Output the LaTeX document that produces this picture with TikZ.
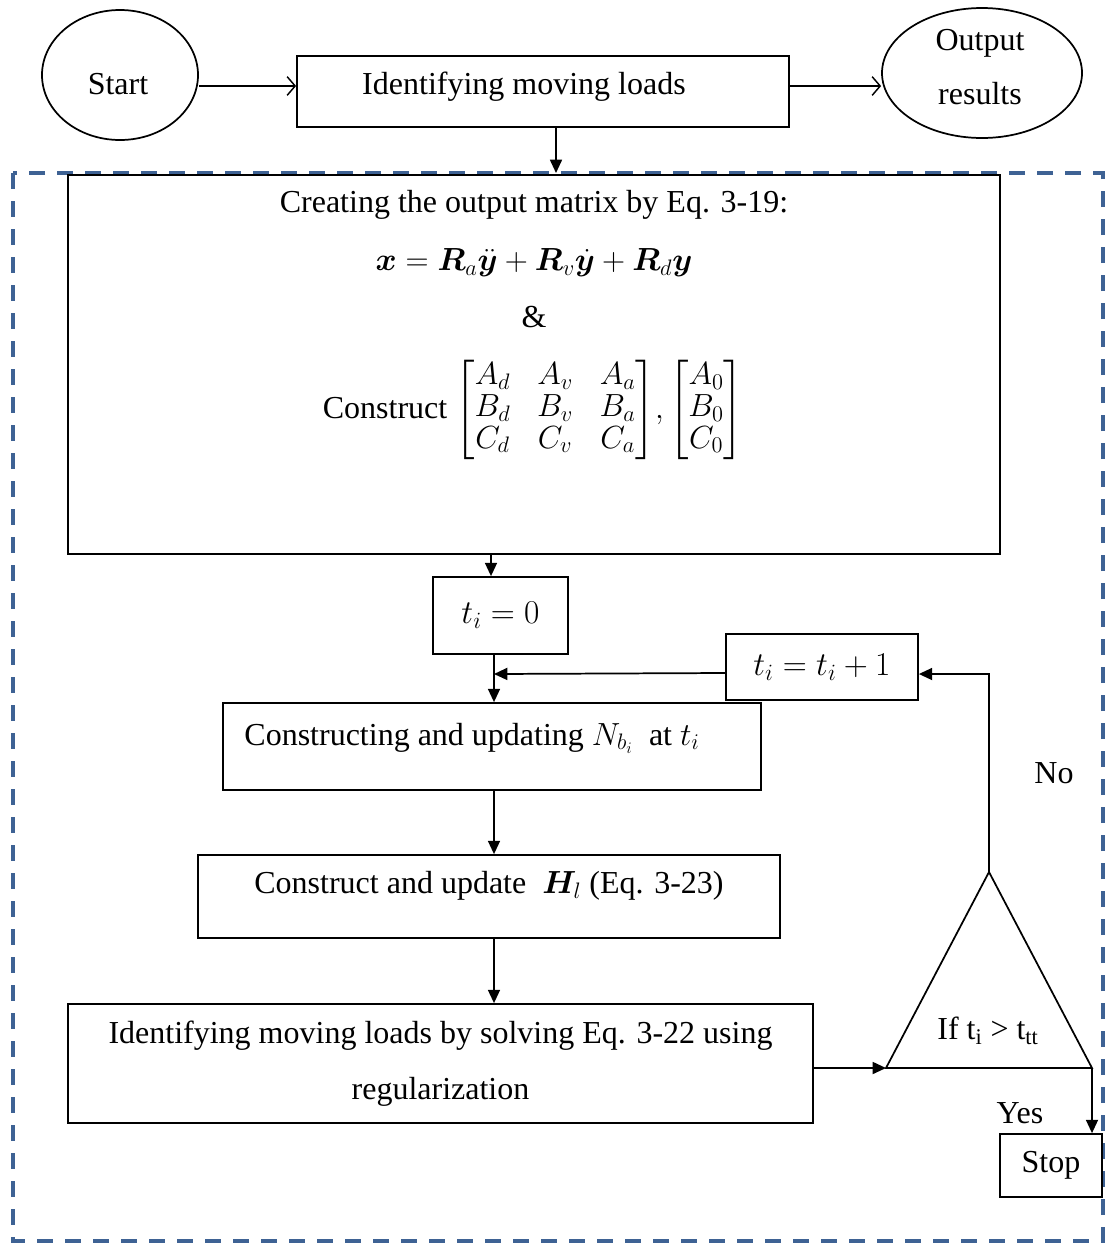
\RequirePackage{fix-cm}
\documentclass[tikz,border=0pt]{standalone}
\usepackage{amsmath,bm}
\usepackage{fontspec}
\setmainfont{Liberation Serif}
\usetikzlibrary{arrows.meta,shapes.geometric}
\definecolor{dashblue}{RGB}{62,98,148}
\begin{document}
\begin{tikzpicture}[x=0.75pt,y=-0.75pt,
  every node/.style={font=\fontsize{24}{28}\selectfont},
  box/.style={draw,line width=1.3pt,inner sep=0pt,align=center},
  oval/.style={draw,ellipse,line width=1.3pt,inner sep=0pt,align=center},
  arr/.style={line width=1.3pt,-{Triangle[length=10pt,width=9pt]}},
  oarr/.style={line width=1.1pt,-{Straight Barb[length=6pt,width=14pt]}},
  conn/.style={line width=1.3pt},
  frame/.style={draw=dashblue,line width=2.4pt,dash pattern=on 12pt off 9pt}]
\useasboundingbox (0,0) rectangle (1105,1243);
% dashed frame
\draw[frame] (13,173) rectangle (1103,1241);
% top row
\node[oval,minimum width=117pt,minimum height=97.5pt] (start) at (120,75) {};
\node (startt) at (118,84) {Start};
\node[box,minimum width=369pt,minimum height=53.25pt] (ident) at (543,91.5) {};
\node (identt) at (524,87) {Identifying moving loads};
\node[oval,minimum width=150pt,minimum height=97.5pt] (out) at (982,73) {};
\node[font=\fontsize{24}{41}\selectfont,align=center] (outt) at (980,67) {Output\\results};
\draw[oarr] (start.east |- 0,86) -- (ident.west |- 0,86);
\draw[oarr] (ident.east |- 0,86) -- (out.west |- 0,86);
% big box
\node[box,minimum width=699pt,minimum height=284.25pt] (big) at (534,364.5) {};
\node (l1) at (534,205) {Creating the output matrix by Eq. 3-19:};
\node (l2) at (534,263) {$\bm{x}=\bm{R}_{a}\ddot{\bm{y}}+\bm{R}_{v}\dot{\bm{y}}+\bm{R}_{d}\bm{y}$};
\node (l3) at (534,317) {\&};
\node (l4) at (533,410) {\renewcommand{\arraystretch}{0.85}Construct {\arraycolsep=10pt$\begin{bmatrix}A_d & A_v & A_a\\ B_d & B_v & B_a\\ C_d & C_v & C_a\end{bmatrix}$}$,\begin{bmatrix}A_0\\ B_0\\ C_0\end{bmatrix}$};
\draw[arr] ([xshift=9.75pt]ident.south) -- ([xshift=9.75pt]ident.south |- 0,173);
% loop part
\node[box,minimum width=101.25pt,minimum height=57.75pt,font=\fontsize{25}{28}\selectfont] (t0) at (500.5,615.5) {$t_i=0$};
\node[box,minimum width=144pt,minimum height=49.5pt,font=\fontsize{25}{28}\selectfont] (tinc) at (822,667) {$t_i=t_i+1$};
\node[box,minimum width=403.5pt,minimum height=65.25pt] (nb) at (492,746.5) {};
\node (nbt) at (472,738) {Constructing and updating $N_{b_i}$\ \ at $t_i$};
\node[box,minimum width=436.5pt,minimum height=62.25pt] (hl) at (489,896.5) {};
\node (hlt) at (489,886) {Construct and update\ \ $\bm{H}_l$ (Eq. 3-23)};
\node[box,minimum width=558.75pt,minimum height=89.25pt,font=\fontsize{24}{42}\selectfont] (idl) at (440.5,1063.5) {Identifying moving loads by solving Eq. 3-22 using\\regularization};
\coordinate (triT) at (989,872);
\coordinate (triL) at (886,1068);
\coordinate (triR) at (1092,1068);
\draw[conn,line join=miter] (triT) -- (triR) -- (triL) -- cycle;
\node (cond) at (988,1031) {If t\textsubscript{i} > t\textsubscript{tt}};
\node[box,minimum width=76.5pt,minimum height=47.25pt] (stop) at (1051,1165.5) {Stop};
\node (no) at (1054,773) {No};
\node (yes) at (1020,1113) {Yes};
% connectors
\draw[arr] (big.south -| 491,0) -- (t0.north -| 491,0);
\draw[arr] (t0.south -| 494,0) -- (nb.north -| 494,0);
\draw[arr] (tinc.west |- 0,673) -- (494,674);
\draw[arr] (nb.south -| 494,0) -- (hl.north -| 494,0);
\draw[arr] (hl.south -| 494,0) -- (idl.north -| 494,0);
\draw[arr] (idl.east |- triL) -- (triL);
\draw[arr] (triT) -- (triT |- 0,674) -- (tinc.east |- 0,674);
\draw[arr] (triR) -- (triR |- stop.north);
\end{tikzpicture}
\end{document}
